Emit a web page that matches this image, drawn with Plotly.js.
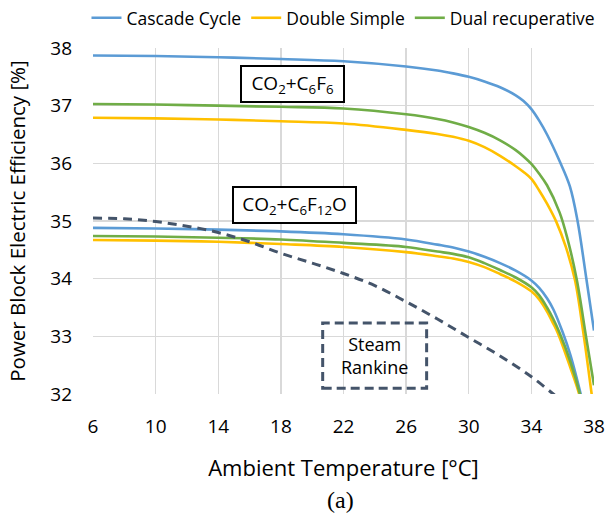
<!DOCTYPE html>
<html>
<head>
<meta charset="utf-8">
<script src="https://cdn.plot.ly/plotly-3.0.1.min.js"></script>
<style>html,body{margin:0;padding:0;background:#fff;}#chart{width:605px;height:518px;}</style>
</head>
<body>
<div id="chart"></div>
<script>
// ---- Data ----
const seriesNames = ["Cascade Cycle", "Double Simple", "Dual recuperative"];

// CO2+C6F6 family
const c6f6CascadeT = [6, 10, 14, 18, 22, 26, 28, 29, 30, 31, 32, 33, 33.5, 34, 34.5, 35, 35.8, 36.46, 36.95, 37.5, 38];
const c6f6CascadeEff = [37.87, 37.86, 37.84, 37.81, 37.77, 37.68, 37.61, 37.56, 37.5, 37.42, 37.32, 37.18, 37.08, 36.94, 36.74, 36.5, 36.04, 35.6, 35.0, 34.02, 33.1];

const c6f6DualT = [6, 10, 14, 18, 22, 26, 28, 29, 30, 31, 32, 33, 33.5, 34, 34.5, 35, 35.8, 36.3, 36.9, 37.5, 38];
const c6f6DualEff = [37.03, 37.02, 37.0, 36.98, 36.95, 36.85, 36.77, 36.71, 36.63, 36.53, 36.4, 36.23, 36.12, 35.99, 35.82, 35.62, 35.15, 34.7, 33.98, 32.98, 32.15];

const c6f6DoubleT = [6, 10, 14, 18, 22, 26, 28, 29, 30, 31, 32, 33, 33.5, 34, 34.5, 35, 35.6, 36.2, 36.78, 37.3, 37.85, 38];
const c6f6DoubleEff = [36.79, 36.78, 36.76, 36.73, 36.69, 36.58, 36.51, 36.46, 36.39, 36.28, 36.13, 35.95, 35.85, 35.73, 35.53, 35.3, 34.98, 34.55, 33.98, 33.1, 32.0, 31.7];

// CO2+C6F12O family
const c6f12oCascadeT = [6, 10, 14, 18, 22, 26, 28, 29, 30, 31, 32, 33, 34, 34.5, 35, 35.4, 36, 36.5, 37.15, 37.4];
const c6f12oCascadeEff = [34.88, 34.87, 34.85, 34.82, 34.77, 34.68, 34.59, 34.54, 34.47, 34.38, 34.27, 34.14, 33.97, 33.84, 33.66, 33.47, 33.07, 32.67, 32.0, 31.7];

const c6f12oDualT = [6, 10, 14, 18, 22, 26, 28, 29, 30, 31, 32, 33, 34, 34.5, 35, 35.4, 35.8, 36.5, 37.1, 37.3];
const c6f12oDualEff = [34.74, 34.73, 34.71, 34.68, 34.62, 34.55, 34.47, 34.43, 34.37, 34.27, 34.15, 34.02, 33.85, 33.71, 33.5, 33.3, 33.06, 32.55, 32.0, 31.75];

const c6f12oDoubleT = [6, 10, 14, 18, 22, 26, 28, 29, 30, 31, 32, 33, 34, 34.5, 35, 35.4, 35.7, 36.5, 37.05, 37.25];
const c6f12oDoubleEff = [34.67, 34.66, 34.64, 34.6, 34.55, 34.46, 34.39, 34.35, 34.29, 34.2, 34.08, 33.95, 33.78, 33.64, 33.43, 33.22, 33.05, 32.45, 32.0, 31.75];

// Steam Rankine reference
const steamT = [6, 8, 10, 12, 14, 16, 18, 20, 22, 24, 26, 28, 30, 32, 34, 35.4, 36];
const steamEff = [35.05, 35.04, 34.99, 34.91, 34.8, 34.64, 34.44, 34.27, 34.09, 33.88, 33.6, 33.3, 32.98, 32.66, 32.3, 32.0, 31.87];

const xTicks = [6, 10, 14, 18, 22, 26, 30, 34, 38];
const yTicks = [32, 33, 34, 35, 36, 37, 38];

// ---- Styles ----
const colBlue = "#5b9bd5", colYellow = "#ffc000", colGreen = "#70ad47", colSteam = "#44546a";
const lw = 2.6;
const fontFam = "'Open Sans', 'Noto Sans', sans-serif";

function line(x, y, color, name, show, group) {
  return {x: x, y: y, type: "scatter", mode: "lines", name: name, legendgroup: group,
          showlegend: show, line: {color: color, width: lw, shape: "spline", smoothing: 1.0},
          hoverinfo: "skip"};
}

const traces = [
  line(c6f6CascadeT, c6f6CascadeEff, colBlue, seriesNames[0], true, "a"),
  line(c6f6DoubleT, c6f6DoubleEff, colYellow, seriesNames[1], true, "b"),
  line(c6f6DualT, c6f6DualEff, colGreen, seriesNames[2], true, "c"),
  line(c6f12oCascadeT, c6f12oCascadeEff, colBlue, seriesNames[0], false, "a"),
  line(c6f12oDoubleT, c6f12oDoubleEff, colYellow, seriesNames[1], false, "b"),
  line(c6f12oDualT, c6f12oDualEff, colGreen, seriesNames[2], false, "c"),
  {x: steamT, y: steamEff, type: "scatter", mode: "lines", showlegend: false,
   line: {color: colSteam, width: 3, dash: "9px,6px", shape: "spline", smoothing: 1.0}, hoverinfo: "skip"}
];

const layout = {
  width: 605, height: 518,
  margin: {l: 93, r: 11, t: 47.5, b: 123.5, pad: 0, autoexpand: false},
  paper_bgcolor: "#fff", plot_bgcolor: "#fff",
  font: {family: fontFam, color: "#000", size: 18},
  showlegend: true,
  legend: {orientation: "h", x: -0.013, xanchor: "left", y: 1.087, yanchor: "middle",
           font: {family: fontFam, size: 17.5, color: "#000"}, itemwidth: 30, tracegroupgap: 0,
           bgcolor: "rgba(0,0,0,0)"},
  xaxis: {range: [6, 38], tickvals: xTicks, ticktext: xTicks.map(String),
          showgrid: true, gridcolor: "#d9d9d9", gridwidth: 1.3, zeroline: false,
          showline: false, ticks: "", ticklabelstandoff: 19,
          tickfont: {family: fontFam, size: 19, color: "#000"},
          title: {text: "Ambient Temperature [°C]", font: {family: fontFam, size: 22, color: "#000"}, standoff: 22}},
  yaxis: {range: [32, 38], tickvals: yTicks, ticktext: yTicks.map(String),
          showgrid: true, gridcolor: "#d9d9d9", gridwidth: 1.3, zeroline: false,
          showline: false, ticks: "", ticklabelstandoff: 20,
          tickfont: {family: fontFam, size: 19, color: "#000"},
          title: {text: "Power Block Electric Efficiency [%]", font: {family: fontFam, size: 20.5, color: "#000"}, standoff: 19}},
  shapes: [
    {type: "rect", xref: "x", yref: "y", x0: 20.67, x1: 27.31, y0: 32.10, y1: 33.23,
     line: {color: colSteam, width: 3, dash: "9px,5px"}, fillcolor: "rgba(255,255,255,0)"}
  ],
  annotations: [
    {x: 18.77, y: 37.37, xref: "x", yref: "y", showarrow: false,
     text: "CO<sub>2</sub>+C<sub>6</sub>F<sub>6</sub>", font: {family: fontFam, size: 19, color: "#000"},
     bgcolor: "#fff", bordercolor: "#000", borderwidth: 2, borderpad: 0, width: 101, height: 34},
    {x: 18.88, y: 35.28, xref: "x", yref: "y", showarrow: false,
     text: "CO<sub>2</sub>+C<sub>6</sub>F<sub>12</sub>O", font: {family: fontFam, size: 19, color: "#000"},
     bgcolor: "#fff", bordercolor: "#000", borderwidth: 2, borderpad: 0, width: 121, height: 34},
    {x: 23.99, y: 32.67, xref: "x", yref: "y", showarrow: false,
     text: "Steam<br>Rankine", font: {family: fontFam, size: 18, color: "#000"}},
    {x: 0.494, y: -0.305, xref: "paper", yref: "paper", xanchor: "center", yanchor: "middle", showarrow: false,
     text: "(a)", font: {family: "'Liberation Serif', 'DejaVu Serif', serif", size: 24, color: "#000"}}
  ]
};

Plotly.newPlot("chart", traces, layout, {staticPlot: true, displayModeBar: false});
</script>
</body>
</html>
